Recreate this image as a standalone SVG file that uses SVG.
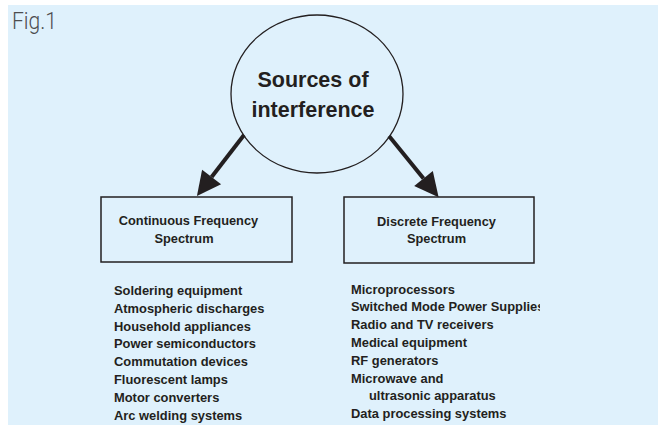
<svg xmlns="http://www.w3.org/2000/svg" width="658" height="425" viewBox="0 0 658 425">
<style>
.bg{fill:#dff1fc}
.node{fill:none;stroke:#231f20}
.title{font-family:"Liberation Sans",Arial,sans-serif;font-weight:bold;font-size:21.5px;fill:#231f20;text-anchor:middle}
.box{font-family:"Liberation Sans",Arial,sans-serif;font-weight:bold;font-size:12.8px;fill:#231f20;text-anchor:middle}
.list{font-family:"Liberation Sans",Arial,sans-serif;font-weight:bold;font-size:12.9px;fill:#231f20}
.fig{font-family:Roboto,"Open Sans",sans-serif;font-weight:300;font-size:24px;fill:#4d4d4f}
.conn{stroke:#231f20;stroke-width:4;fill:none}
</style>
<defs>
<marker id="ah" markerUnits="userSpaceOnUse" markerWidth="26" markerHeight="26" refX="0" refY="12" orient="auto" overflow="visible">
<path d="M0,0 L24,12 L0,24 Z" fill="#231f20"/>
</marker>
<clipPath id="clipR"><rect x="340" y="270" width="200" height="155"/></clipPath>
</defs>
<rect class="bg" x="8" y="5" width="650" height="420"/>
<text class="fig" x="12" y="29" textLength="45" lengthAdjust="spacingAndGlyphs">Fig.1</text>
<g id="connectors">
<line class="conn" x1="244" y1="135" x2="211.6" y2="177" marker-end="url(#ah)"/>
<line class="conn" x1="389" y1="136" x2="423.5" y2="178.5" marker-end="url(#ah)"/>
</g>
<g id="sources">
<ellipse class="node" cx="317" cy="94" rx="86" ry="79" stroke-width="1.3"/>
<text class="title" x="313" y="87">Sources of</text>
<text class="title" x="313" y="117">interference</text>
</g>
<g id="continuous">
<rect class="node" x="101" y="197" width="191" height="65" stroke-width="1.5"/>
<text class="box" x="188.5" y="225">Continuous Frequency</text>
<text class="box" x="184" y="243">Spectrum</text>
</g>
<g id="discrete">
<rect class="node" x="344" y="197" width="190" height="66" stroke-width="1.5"/>
<text class="box" x="436.5" y="226">Discrete Frequency</text>
<text class="box" x="436.5" y="243">Spectrum</text>
</g>
<g id="continuous-list" class="list">
<text x="114" y="295">Soldering equipment</text>
<text x="114" y="312.8">Atmospheric discharges</text>
<text x="114" y="330.6">Household appliances</text>
<text x="114" y="348.4">Power semiconductors</text>
<text x="114" y="366.2">Commutation devices</text>
<text x="114" y="384">Fluorescent lamps</text>
<text x="114" y="401.8">Motor converters</text>
<text x="114" y="419.6">Arc welding systems</text>
</g>
<g id="discrete-list" class="list" clip-path="url(#clipR)">
<text x="351" y="293.5">Microprocessors</text>
<text x="351" y="311.3">Switched Mode Power Supplies</text>
<text x="351" y="329.1">Radio and TV receivers</text>
<text x="351" y="346.9">Medical equipment</text>
<text x="351" y="364.7">RF generators</text>
<text x="351" y="382.5">Microwave and</text>
<text x="369" y="400.3">ultrasonic apparatus</text>
<text x="351" y="418.1">Data processing systems</text>
</g>
</svg>
